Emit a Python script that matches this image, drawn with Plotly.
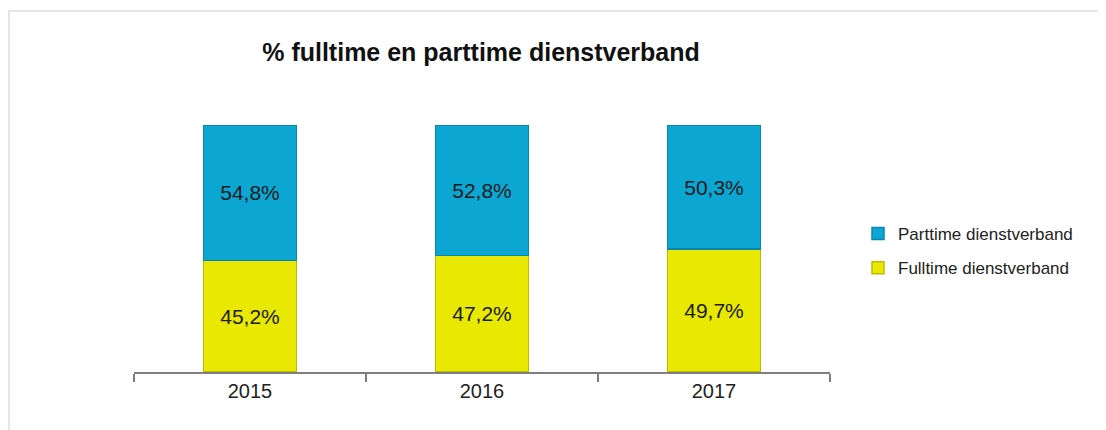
import plotly.graph_objects as go

years = ["2015", "2016", "2017"]
fulltime = [45.2, 47.2, 49.7]
parttime = [54.8, 52.8, 50.3]
title = "% fulltime en parttime dienstverband"

def lbl(v):
    return f"{v:.1f}".replace(".", ",") + "%"

# page body adds 8px offset
OX, OY = 8, 8
W, H = 1106 - OX, 430 - OY
# target pixel positions in the screenshot
px_l, px_r, px_t, px_b = 134, 830, 125, 372
L, R, T, B = px_l - OX, (1106 - px_r), px_t - OY, (430 - px_b)

fig = go.Figure()
fig.add_trace(go.Bar(
    x=years, y=fulltime, name="Fulltime dienstverband",
    marker=dict(color="#E8E800", line=dict(color="#BDBD00", width=1.5)),
    text=[lbl(v) for v in fulltime], textposition="inside",
    insidetextanchor="middle", legendrank=2, legendgroup="full",
    textfont=dict(size=21, color="#1a1a1a", family="Liberation Sans"),
))
fig.add_trace(go.Bar(
    x=years, y=parttime, name="Parttime dienstverband",
    marker=dict(color="#0CA6D2", line=dict(color="#0A87AE", width=1.5)),
    text=[lbl(v) for v in parttime], textposition="inside",
    insidetextanchor="middle", legendrank=1, legendgroup="part",
    textfont=dict(size=21, color="#1a1a1a", family="Liberation Sans"),
))

pw = W - L - R
ph = H - T - B

def xp(px):
    return (px - px_l) / pw

def yp(py):
    return (px_b - py) / ph

fig.add_shape(type="line", xref="paper", yref="paper",
              x0=xp(8), x1=xp(1115), y0=yp(11), y1=yp(11),
              line=dict(color="#E6E6E6", width=2))
fig.add_shape(type="line", xref="paper", yref="paper",
              x0=xp(9), x1=xp(9), y0=yp(11), y1=yp(440),
              line=dict(color="#E6E6E6", width=2))

fig.update_layout(
    width=W, height=H,
    margin=dict(l=L, r=R, t=T, b=B),
    paper_bgcolor="white", plot_bgcolor="white",
    barmode="stack", bargap=0.6,
    showlegend=True,
    title=dict(text=f"<b>{title}</b>", x=(481 - OX) / W, xanchor="center",
               y=1 - (52 - OY) / H, yanchor="middle",
               font=dict(size=25, color="#111", family="Liberation Sans")),
    legend=dict(x=xp(858), xanchor="left", y=yp(216),
                yanchor="top", traceorder="grouped",
                tracegroupgap=9,
                font=dict(size=17, color="#222", family="Liberation Sans"),
                bgcolor="rgba(0,0,0,0)"),
    xaxis=dict(showline=True, linecolor="#7f7f7f", linewidth=1.5,
               ticks="outside", tickson="boundaries", ticklen=8,
               tickcolor="#7f7f7f", tickwidth=1.5,
               tickfont=dict(size=20, color="#222", family="Liberation Sans"),
               showgrid=False),
    yaxis=dict(range=[0, 100], visible=False, showgrid=False),
)

fig.write_html("out.html")
